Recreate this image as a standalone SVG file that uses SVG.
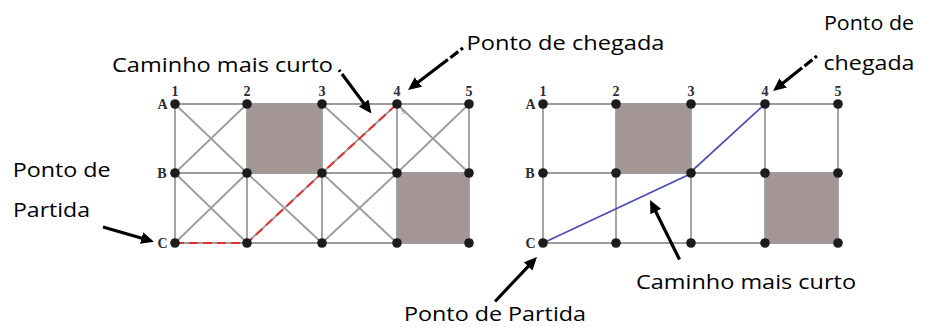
<svg xmlns="http://www.w3.org/2000/svg" width="925" height="327" viewBox="0 0 925 327">
<style>
.bg{fill:#ffffff}
.sq{fill:#a39694}
.gl{stroke:#9c9c9c;stroke-width:1.8;fill:none}
.nd{fill:#1c1c1c}
.lbl{font-family:"Liberation Serif",serif;font-weight:bold;font-size:14px;fill:#2a2a30;text-anchor:middle}
.cap{font-family:"Open Sans","Liberation Sans",sans-serif;font-size:19.5px;fill:#000000}
.arr{stroke:#000000;stroke-width:3.2;fill:none;marker-end:url(#ah)}
.red{stroke:#e53030;stroke-width:2;fill:none;stroke-dasharray:9 5}
.blue{stroke:#4c4cb4;stroke-width:1.7;fill:none}
</style>
<defs>
<marker id="ah" viewBox="0 0 13 12" refX="5" refY="6" markerWidth="13" markerHeight="12" markerUnits="userSpaceOnUse" orient="auto">
<path d="M0,0 L13,6 L0,12 z" fill="#000000"/>
</marker>
</defs>
<rect class="bg" x="0" y="0" width="925" height="327"/>

<!-- LEFT GRID -->
<g id="left-grid">
<rect class="sq" x="247" y="104" width="75" height="69"/>
<rect class="sq" x="397" y="173" width="72" height="70"/>
<g id="left-edges" class="gl">
<path d="M175,104H469M175,173H469M175,243H469"/>
<path d="M175,104V243M247,104V243M322,104V243M397,104V243M469,104V243"/>
<path d="M175,104L247,173M247,104L175,173"/>
<path d="M322,104L397,173M397,104L322,173"/>
<path d="M397,104L469,173M469,104L397,173"/>
<path d="M175,173L247,243M247,173L175,243"/>
<path d="M247,173L322,243M322,173L247,243"/>
<path d="M322,173L397,243M397,173L322,243"/>
</g>
<path id="left-path" class="red" d="M175,243H247L322,173L397,104"/>
<g id="L-A1"><circle class="nd" cx="175" cy="104" r="4.8"/></g>
<g id="L-A2"><circle class="nd" cx="247" cy="104" r="4.8"/></g>
<g id="L-A3"><circle class="nd" cx="322" cy="104" r="4.8"/></g>
<g id="L-A4"><circle class="nd" cx="397" cy="104" r="4.8"/></g>
<g id="L-A5"><circle class="nd" cx="469" cy="104" r="4.8"/></g>
<g id="L-B1"><circle class="nd" cx="175" cy="173" r="4.8"/></g>
<g id="L-B2"><circle class="nd" cx="247" cy="173" r="4.8"/></g>
<g id="L-B3"><circle class="nd" cx="322" cy="173" r="4.8"/></g>
<g id="L-B4"><circle class="nd" cx="397" cy="173" r="4.8"/></g>
<g id="L-B5"><circle class="nd" cx="469" cy="173" r="4.8"/></g>
<g id="L-C1"><circle class="nd" cx="175" cy="243" r="4.8"/></g>
<g id="L-C2"><circle class="nd" cx="247" cy="243" r="4.8"/></g>
<g id="L-C3"><circle class="nd" cx="322" cy="243" r="4.8"/></g>
<g id="L-C4"><circle class="nd" cx="397" cy="243" r="4.8"/></g>
<g id="L-C5"><circle class="nd" cx="469" cy="243" r="4.8"/></g>
<g id="left-labels" class="lbl">
<text x="175" y="96">1</text><text x="247" y="96">2</text><text x="322" y="96">3</text><text x="397" y="96">4</text><text x="469" y="96">5</text>
<text x="162.5" y="109">A</text><text x="162" y="178">B</text><text x="162.5" y="248">C</text>
</g>
<text x="403" y="114" font-family="Liberation Serif,serif" font-size="7" fill="#666" text-anchor="middle">5</text>
</g>

<!-- RIGHT GRID -->
<g id="right-grid">
<rect class="sq" x="616" y="104" width="75" height="69"/>
<rect class="sq" x="765" y="173" width="73" height="70"/>
<g id="right-edges" class="gl">
<path d="M543,104H838M543,173H838M543,243H838"/>
<path d="M543,104V243M616,104V243M691,104V243M765,104V243M838,104V243"/>
</g>
<path id="right-path" class="blue" d="M543,243L687,175.5L765,104"/>
<g id="R-A1"><circle class="nd" cx="543" cy="104" r="4.8"/></g>
<g id="R-A2"><circle class="nd" cx="616" cy="104" r="4.8"/></g>
<g id="R-A3"><circle class="nd" cx="691" cy="104" r="4.8"/></g>
<g id="R-A4"><circle class="nd" cx="765" cy="104" r="4.8"/></g>
<g id="R-A5"><circle class="nd" cx="838" cy="104" r="4.8"/></g>
<g id="R-B1"><circle class="nd" cx="543" cy="173" r="4.8"/></g>
<g id="R-B2"><circle class="nd" cx="616" cy="173" r="4.8"/></g>
<g id="R-B3"><circle class="nd" cx="691" cy="173" r="4.8"/></g>
<g id="R-B4"><circle class="nd" cx="765" cy="173" r="4.8"/></g>
<g id="R-B5"><circle class="nd" cx="838" cy="173" r="4.8"/></g>
<g id="R-C1"><circle class="nd" cx="543" cy="243" r="4.8"/></g>
<g id="R-C2"><circle class="nd" cx="616" cy="243" r="4.8"/></g>
<g id="R-C3"><circle class="nd" cx="691" cy="243" r="4.8"/></g>
<g id="R-C4"><circle class="nd" cx="765" cy="243" r="4.8"/></g>
<g id="R-C5"><circle class="nd" cx="838" cy="243" r="4.8"/></g>
<g id="right-labels" class="lbl">
<text x="543" y="96">1</text><text x="616" y="96">2</text><text x="691" y="96">3</text><text x="765" y="96">4</text><text x="838" y="96">5</text>
<text x="530.5" y="109">A</text><text x="530" y="178">B</text><text x="530.5" y="248">C</text>
</g>
</g>

<!-- CAPTIONS -->
<g id="cap-left-partida" class="cap">
<text x="12.7" y="177" textLength="98" lengthAdjust="spacingAndGlyphs">Ponto de</text>
<text x="13" y="216.5" textLength="77" lengthAdjust="spacingAndGlyphs">Partida</text>
</g>
<g id="cap-left-caminho" class="cap"><text x="112" y="72" textLength="221" lengthAdjust="spacingAndGlyphs">Caminho mais curto</text></g>
<g id="cap-left-chegada" class="cap"><text x="466.5" y="50" textLength="198" lengthAdjust="spacingAndGlyphs">Ponto de chegada</text></g>
<g id="cap-right-chegada" class="cap">
<text x="824" y="30" textLength="90" lengthAdjust="spacingAndGlyphs">Ponto de</text>
<text x="823.5" y="70" textLength="91" lengthAdjust="spacingAndGlyphs">chegada</text>
</g>
<g id="cap-right-partida" class="cap"><text x="404" y="320.5" textLength="182" lengthAdjust="spacingAndGlyphs">Ponto de Partida</text></g>
<g id="cap-right-caminho" class="cap"><text x="636" y="289" textLength="220" lengthAdjust="spacingAndGlyphs">Caminho mais curto</text></g>

<!-- CONNECTORS (arrows) -->
<g id="connectors">
<path class="arr" d="M103,227L146.3,239.5"/>
<path class="arr" d="M339,70L366.7,107.1" stroke-dasharray="2 3 300"/>
<path class="arr" d="M463,48L414.4,85.1" stroke-dasharray="3 3 10 3 300"/>
<path class="arr" d="M817,56L779.3,86" stroke-dasharray="3 3 10 3 300"/>
<path class="arr" d="M495,301.5L531.5,262.8"/>
<path class="arr" d="M679.5,259.5L653.6,207.2"/>
</g>
</svg>
